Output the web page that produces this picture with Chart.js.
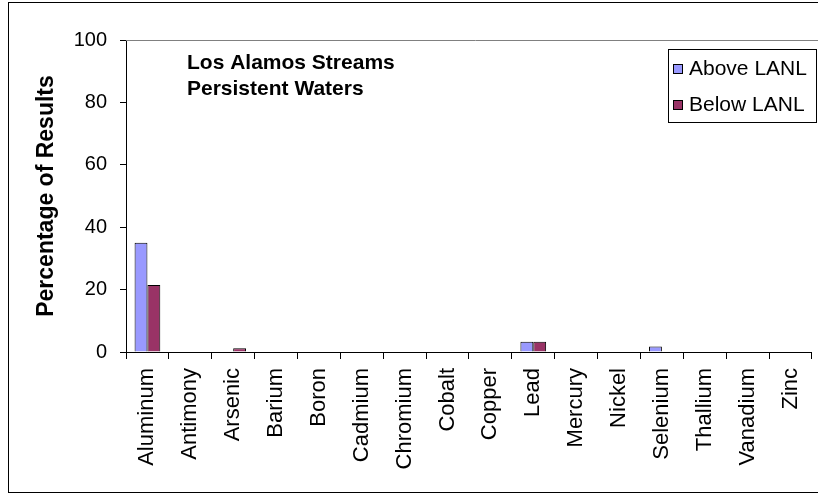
<!DOCTYPE html>
<html>
<head>
<meta charset="utf-8">
<script src="https://cdn.jsdelivr.net/npm/chart.js@4"></script>
<style>
  html, body { margin: 0; padding: 0; background: #fff; overflow: hidden; }
  #wrap { width: 818px; height: 494px; position: relative; overflow: hidden; }
</style>
</head>
<body>
<div id="wrap"><canvas id="myChart" width="826" height="494"></canvas></div>
<script>
'use strict';

// Chart data
const elements = ['Aluminum', 'Antimony', 'Arsenic', 'Barium', 'Boron', 'Cadmium', 'Chromium',
  'Cobalt', 'Copper', 'Lead', 'Mercury', 'Nickel', 'Selenium', 'Thallium', 'Vanadium', 'Zinc'];
const aboveLanl = [35, 0, 0, 0, 0, 0, 0, 0, 0, 3.3, 0, 0, 1.8, 0, 0, 0];
const belowLanl = [21.5, 0, 1.2, 0, 0, 0, 0, 0, 0, 3.3, 0, 0, 0, 0, 0, 0];
const yTicks = [0, 20, 40, 60, 80, 100];
const titleLines = ['Los Alamos Streams', 'Persistent Waters'];

const FONT = "'Liberation Sans', Arial, sans-serif";

// frame, inset title and legend box
const decor = {
  id: 'decor',
  beforeDraw(chart) {
    const c = chart.ctx;
    c.save();
    c.fillStyle = '#fff';
    c.fillRect(0, 0, chart.width, chart.height);
    c.restore();
  },
  afterDraw(chart) {
    const c = chart.ctx;
    const a = chart.chartArea;
    c.save();
    // outer frame (right side falls outside the window)
    c.strokeStyle = '#000';
    c.lineWidth = 1;
    c.strokeRect(8.5, 2.5, chart.width - 11, chart.height - 4);
    // top line of the plot area
    c.strokeStyle = '#808080';
    c.beginPath();
    c.moveTo(a.left, a.top + 0.5);
    c.lineTo(chart.width - 1, a.top + 0.5);
    c.stroke();

    // title inside the plot
    c.fillStyle = '#000';
    c.font = 'bold 21px ' + FONT;
    c.textBaseline = 'alphabetic';
    titleLines.forEach((t, i) => c.fillText(t, 187, 69 + i * 26));

    // legend
    const lx = 668, ly = 49, lw = 148, lh = 73;
    c.fillStyle = '#fff';
    c.fillRect(lx, ly, lw, lh);
    c.strokeStyle = '#000';
    c.strokeRect(lx + 0.5, ly + 0.5, lw, lh);
    c.font = '21px ' + FONT;
    chart.data.datasets.forEach((ds, i) => {
      const y = ly + 19 + i * 36;
      c.fillStyle = ds.backgroundColor;
      c.fillRect(lx + 5, y - 4, 9, 9);
      c.strokeStyle = '#000';
      c.strokeRect(lx + 5.5, y - 3.5, 9, 9);
      c.fillStyle = '#000';
      c.textBaseline = 'middle';
      c.fillText(ds.label, lx + 21, y + 1);
    });
    c.restore();
  }
};

const ctx = document.getElementById('myChart');
// eslint-disable-next-line no-unused-vars
const myChart = new Chart(ctx, {
  type: 'bar',
  data: {
    labels: elements,
    datasets: [{
      label: 'Above LANL',
      data: aboveLanl,
      backgroundColor: '#9999FF',
      borderColor: '#000',
      borderWidth: 1
    }, {
      label: 'Below LANL',
      data: belowLanl,
      backgroundColor: '#993366',
      borderColor: '#000',
      borderWidth: 1
    }]
  },
  options: {
    responsive: false,
    animation: false,
    devicePixelRatio: 1,
    layout: { padding: { left: 10, right: 3, top: 40, bottom: 0 } },
    datasets: { bar: { categoryPercentage: 0.6, barPercentage: 1 } },
    plugins: {
      legend: { display: false },
      tooltip: { enabled: false }
    },
    scales: {
      x: {
        grid: {
          offset: true,
          drawOnChartArea: false,
          tickLength: 7,
          color: '#000'
        },
        border: { color: '#000', width: 1 },
        ticks: {
          color: '#000',
          font: { family: FONT, size: 22 },
          minRotation: 90,
          maxRotation: 90,
          autoSkip: false,
          padding: 9
        },
        afterFit(scale) { scale.height = 142; }
      },
      y: {
        min: 0,
        max: 100,
        afterBuildTicks(scale) {
          scale.ticks = yTicks.map(v => ({ value: v }));
        },
        ticks: {
          color: '#000',
          font: { family: FONT, size: 20 },
          padding: 13
        },
        grid: {
          drawOnChartArea: false,
          tickLength: 6,
          color: '#000'
        },
        border: { color: '#000', width: 1 },
        title: {
          display: true,
          text: 'Percentage of Results',
          color: '#000',
          font: { family: FONT, size: 23, weight: 'bold' },
          padding: { top: 23, bottom: 0 }
        },
        afterFit(scale) { scale.width = 116; }
      }
    }
  },
  plugins: [decor]
});
</script>
</body>
</html>
